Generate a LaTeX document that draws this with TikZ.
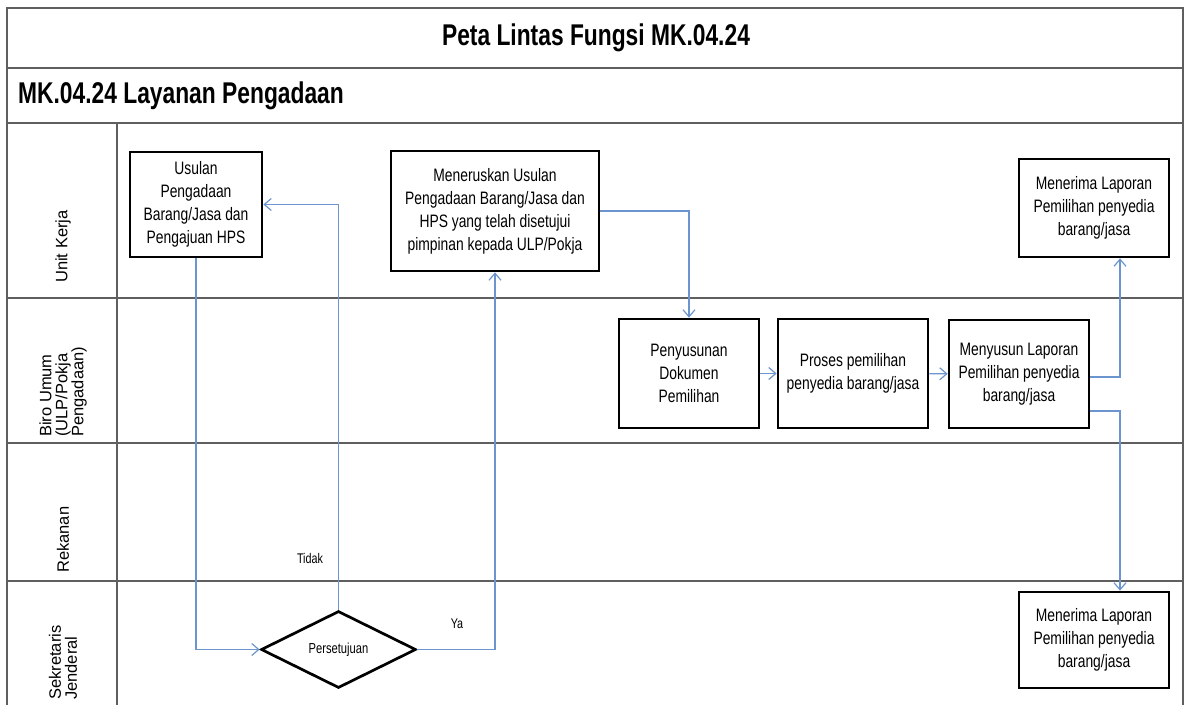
\documentclass[tikz,border=0pt]{standalone}
\usepackage{fontspec}
\setmainfont{Liberation Sans}
\newfontfamily\sempit[FakeStretch=0.77]{Liberation Sans}
\newfontfamily\judul[FakeStretch=0.76]{Liberation Sans}
\usetikzlibrary{shapes.geometric, arrows.meta}
\definecolor{PanahBiru}{RGB}{108,148,206}
\definecolor{GarisAbu}{RGB}{95,95,95}

\begin{document}
\begin{tikzpicture}[x=1pt, y=-1pt,
          kotak/.style={rectangle, draw, line width=2.7pt, align=center,
                        inner sep=2pt, font=\sempit\fontsize{18}{23}\selectfont},
          putusan/.style={diamond, draw, line width=2.7pt, inner sep=0pt,
                        minimum width=155pt, minimum height=77pt,
                        font=\sempit\fontsize{14.5}{17}\selectfont},
          lajur/.style={rotate=90, anchor=west, align=left, inner sep=0pt,
                        font=\fontsize{16.5}{16}\selectfont},
          ket/.style={font=\sempit\fontsize{14}{16}\selectfont, inner sep=0pt},
          garis/.style={GarisAbu, line width=1.8pt},
          arr/.style={-{Straight Barb[length=7pt, width=12pt]}, PanahBiru, line width=1.2pt}
        ]
        \useasboundingbox (0,0) rectangle (1188,704);
        \clip (0,0) rectangle (1188,704);

        % Frame and lanes
        \draw[garis] (7,720) -- (7,8) -- (1183,8) -- (1183,720);
        \foreach \yy in {68, 123, 298, 443, 581}
          \draw[garis] (7,\yy) -- (1183,\yy);
        \draw[garis] (117,123) -- (117,720);

        \node[font=\judul\bfseries\fontsize{30}{32}\selectfont] (judul) at (596,38)
              {Peta Lintas Fungsi MK.04.24};
        \node[font=\judul\bfseries\fontsize{30}{32}\selectfont, anchor=west, inner sep=0pt]
              (subjudul) at (18,96) {MK.04.24 Layanan Pengadaan};

        \node[lajur] (unit) at (63,283) {Unit Kerja};
        \node[lajur] (biro) at (63,437) {Biro Umum\\(ULP/Pokja\\Pengadaan)};
        \node[lajur] (rekanan) at (63,573) {Rekanan};
        \node[lajur] (sekjen) at (63,700) {Sekretaris\\Jenderal};

        % Steps
        \node[kotak, minimum width=132pt, minimum height=105pt] (usulan) at (196,204.5)
              {Usulan\\Pengadaan\\Barang/Jasa dan\\Pengajuan HPS};
        \node[kotak, minimum width=208pt, minimum height=120pt] (terus) at (495,211)
              {Meneruskan Usulan\\Pengadaan Barang/Jasa dan\\HPS yang telah disetujui\\pimpinan kepada ULP/Pokja};
        \node[kotak, minimum width=140pt, minimum height=109pt] (dokumen) at (689,373.5)
              {Penyusunan\\Dokumen\\Pemilihan};
        \node[kotak, minimum width=150pt, minimum height=109pt] (proses) at (853,373.5)
              {Proses pemilihan\\penyedia barang/jasa};
        \node[kotak, minimum width=140pt, minimum height=108pt] (lapor) at (1019,374)
              {Menyusun Laporan\\Pemilihan penyedia\\barang/jasa};
        \node[kotak, minimum width=150pt, minimum height=98pt] (terimaA) at (1094,208)
              {Menerima Laporan\\Pemilihan penyedia\\barang/jasa};
        \node[kotak, minimum width=150pt, minimum height=96pt] (terimaB) at (1094,640)
              {Menerima Laporan\\Pemilihan penyedia\\barang/jasa};
        \node[putusan] (setuju) at (338.5,649.5) {Persetujuan};

        % Flow
        \draw[arr] (usulan.south) |- (setuju.west);
        \draw[arr] (setuju.north) |- (usulan.east);
        \draw[arr] (setuju.east) -| (terus.south);
        \draw[arr] (terus.east) -| (dokumen.north);
        \draw[arr] (dokumen) -- (proses);
        \draw[arr] (proses) -- (lapor);
        \draw[arr] ([yshift=-3pt]lapor.east) -| ([xshift=26pt]terimaA.south);
        \draw[arr] ([yshift=-37pt]lapor.east) -| ([xshift=26pt]terimaB.north);

        \node[ket] (tidak) at (310,558) {Tidak};
        \node[ket] (ya) at (457,624) {Ya};
      \end{tikzpicture}
\end{document}
